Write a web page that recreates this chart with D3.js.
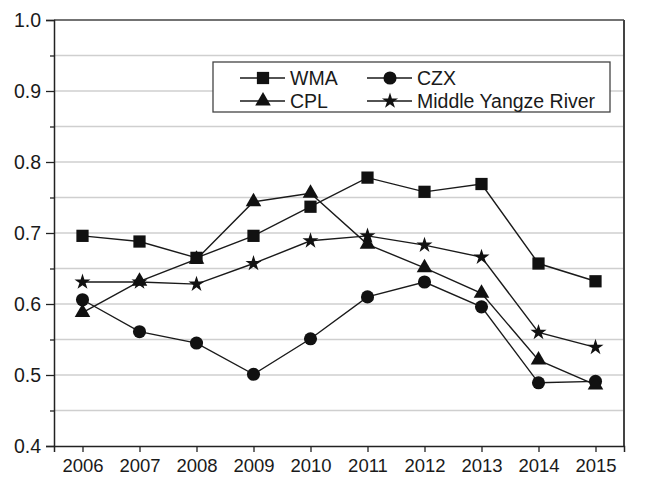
<!DOCTYPE html>
<html>
<head>
<meta charset="utf-8">
<script src="https://cdn.jsdelivr.net/npm/d3@7"></script>
<style>
  html, body { margin: 0; padding: 0; background: #fff; }
  svg { display: block; }
  text { font-family: "Liberation Sans", Arial, sans-serif; fill: #1a1a1a; }
</style>
</head>
<body>
<svg id="chart" width="645" height="481"></svg>
<script>
const years = [2006, 2007, 2008, 2009, 2010, 2011, 2012, 2013, 2014, 2015];
const wma  = [0.696, 0.688, 0.665, 0.696, 0.737, 0.778, 0.758, 0.769, 0.657, 0.632];
const czx  = [0.606, 0.561, 0.545, 0.501, 0.551, 0.610, 0.631, 0.596, 0.489, 0.491];
const cpl  = [0.588, 0.632, 0.663, 0.744, 0.756, 0.684, 0.651, 0.615, 0.521, 0.486];
const myr  = [0.631, 0.631, 0.628, 0.657, 0.689, 0.696, 0.683, 0.666, 0.560, 0.539];
const seriesNames = ["WMA", "CZX", "CPL", "Middle Yangze River"];
const yTicks = [0.4, 0.5, 0.6, 0.7, 0.8, 0.9, 1.0];

const series = [
  { name: seriesNames[0], values: wma, symbol: d3.symbolSquare, size: 150 },
  { name: seriesNames[1], values: czx, symbol: d3.symbolCircle, size: 135 },
  { name: seriesNames[2], values: cpl, symbol: d3.symbolTriangle, size: 105 },
  { name: seriesNames[3], values: myr, symbol: d3.symbolStar, size: 80 }
];

const svg = d3.select("#chart");
const L = 54, R = 624, T = 20, B = 446;

const x = d3.scaleLinear().domain([2005.5, 2015.5]).range([L, R]);
const y = d3.scaleLinear().domain([0.4, 1.0]).range([B, T]);

// gridlines every 0.05
const gridVals = d3.range(0.45, 0.999, 0.05);
svg.append("g").selectAll("line").data(gridVals).join("line")
  .attr("x1", L).attr("x2", R)
  .attr("y1", d => y(d)).attr("y2", d => y(d))
  .attr("stroke", "#cfcfcf").attr("stroke-width", 1.3);

// frame (top and right)
svg.append("line").attr("x1", L).attr("x2", R).attr("y1", T).attr("y2", T)
  .attr("stroke", "#444").attr("stroke-width", 1.5);
svg.append("line").attr("x1", R).attr("x2", R).attr("y1", T).attr("y2", B)
  .attr("stroke", "#444").attr("stroke-width", 2);

// Y axis: major ticks with labels, minor ticks
const yAxis = d3.axisLeft(y).tickValues(yTicks).tickFormat(d3.format(".1f")).tickSize(8).tickPadding(5);
const gy = svg.append("g").attr("transform", `translate(${L},0)`).call(yAxis);
gy.select(".domain").attr("stroke", "#222").attr("stroke-width", 1.5);
gy.selectAll(".tick line").attr("stroke", "#222").attr("stroke-width", 1.3);
gy.selectAll("text").style("font-size", "19.5px").attr("fill", "#1a1a1a");
const yMinor = d3.axisLeft(y).tickValues(d3.range(0.45, 1.0, 0.1)).tickSize(4).tickFormat("");
const gym = svg.append("g").attr("transform", `translate(${L},0)`).call(yMinor);
gym.select(".domain").remove();
gym.selectAll(".tick line").attr("stroke", "#222").attr("stroke-width", 1.3);

// X axis
const xAxis = d3.axisBottom(x).tickValues(years).tickFormat(d3.format("d")).tickSize(6).tickPadding(7);
const gx = svg.append("g").attr("transform", `translate(0,${B})`).call(xAxis);
gx.select(".domain").attr("stroke", "#222").attr("stroke-width", 1.5);
gx.selectAll(".tick line").attr("stroke", "#222").attr("stroke-width", 1.3);
gx.selectAll("text").style("font-size", "18.5px").attr("fill", "#1a1a1a");

// lines and markers
const line = d3.line().x((d, i) => x(years[i])).y(d => y(d));
series.forEach(s => {
  svg.append("path").datum(s.values)
    .attr("d", line).attr("fill", "none")
    .attr("stroke", "#1a1a1a").attr("stroke-width", 1.4);
});
series.forEach(s => {
  const sym = d3.symbol().type(s.symbol).size(s.size);
  svg.append("g").selectAll("path").data(s.values).join("path")
    .attr("d", sym)
    .attr("transform", (d, i) => `translate(${x(years[i])},${y(d)})`)
    .attr("fill", "#111");
});

// legend
const lg = svg.append("g");
lg.append("rect").attr("x", 213).attr("y", 62).attr("width", 397).attr("height", 50)
  .attr("fill", "#fff").attr("stroke", "#444").attr("stroke-width", 1.3);
const legendPos = [
  { s: series[0], lx: 240, ty: 78 },
  { s: series[1], lx: 367, ty: 78 },
  { s: series[2], lx: 240, ty: 101 },
  { s: series[3], lx: 367, ty: 101 }
];
legendPos.forEach(p => {
  lg.append("line").attr("x1", p.lx).attr("x2", p.lx + 45).attr("y1", p.ty).attr("y2", p.ty)
    .attr("stroke", "#1a1a1a").attr("stroke-width", 1.4);
  lg.append("path").attr("d", d3.symbol().type(p.s.symbol).size(p.s.size)())
    .attr("transform", `translate(${p.lx + 23},${p.ty})`).attr("fill", "#111");
  lg.append("text").attr("x", p.lx + 50).attr("y", p.ty).attr("dy", "0.35em")
    .style("font-size", "19.5px").text(p.s.name);
});
</script>
</body>
</html>
